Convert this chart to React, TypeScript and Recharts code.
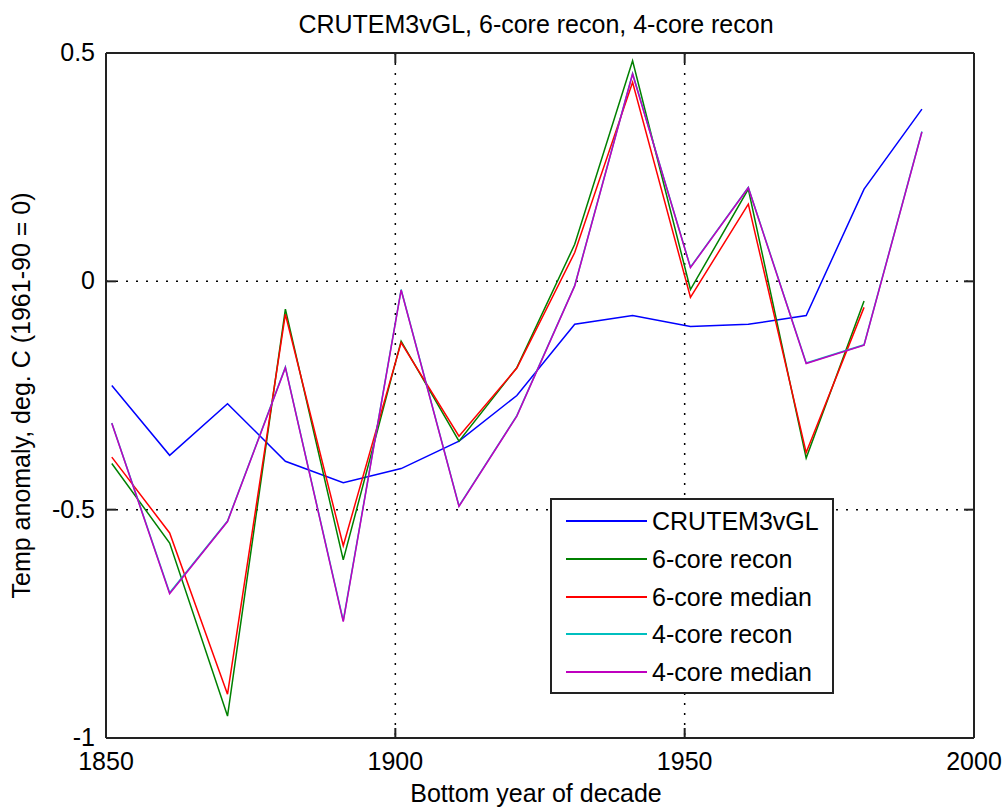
import React from 'react';
import { LineChart, Line, XAxis, YAxis, CartesianGrid, ReferenceLine, Legend } from 'recharts';

const years = [1851, 1861, 1871, 1881, 1891, 1901, 1911, 1921, 1931, 1941, 1951, 1961, 1971, 1981, 1991];
const crutem = [-0.228, -0.381, -0.268, -0.394, -0.441, -0.41, -0.35, -0.25, -0.094, -0.075, -0.099, -0.094, -0.075, 0.202, 0.377];
const recon6 = [-0.399, -0.573, -0.952, -0.061, -0.61, -0.131, -0.35, -0.189, 0.081, 0.483, -0.018, 0.202, -0.387, -0.043, null];
const median6 = [-0.385, -0.551, -0.904, -0.072, -0.579, -0.134, -0.339, -0.19, 0.063, 0.436, -0.035, 0.169, -0.375, -0.057, null];
const recon4 = [-0.31, -0.682, -0.525, -0.188, -0.743, -0.018, -0.492, -0.294, -0.009, 0.455, 0.031, 0.206, -0.179, -0.139, 0.328];
const median4 = [-0.311, -0.684, -0.526, -0.189, -0.745, -0.019, -0.493, -0.295, -0.01, 0.454, 0.03, 0.205, -0.18, -0.14, 0.327];

const xTicks = [1850, 1900, 1950, 2000];
const yTicks = [-1, -0.5, 0, 0.5];
const yTickLabels = ['-1', '-0.5', '0', '0.5'];

const seriesNames = ['CRUTEM3vGL', '6-core recon', '6-core median', '4-core recon', '4-core median'];
const seriesColors = ['#0000ff', '#008000', '#ff0000', '#00bfbf', '#bf00bf'];
const seriesKeys = ['crutem', 'recon6', 'median6', 'recon4', 'median4'];

const data = years.map((year, i) => ({
  year,
  crutem: crutem[i],
  recon6: recon6[i],
  median6: median6[i],
  recon4: recon4[i],
  median4: median4[i],
}));

const FONT = '"Liberation Sans", Arial, sans-serif';
const W = 1005;
const H = 810;
const M = { top: 53, right: 31, bottom: 0, left: 0 };
const YAXIS_W = 106;
const XAXIS_H = 72;
const PLOT_W = W - M.left - M.right - YAXIS_W;
const PLOT_H = H - M.top - M.bottom - XAXIS_H;
const TICK = 10;
const AX = '#222';

const XTick = (props: any) => {
  const { x, y, payload } = props;
  return (
    <g>
      <line x1={x} y1={y} x2={x} y2={y - TICK} stroke={AX} strokeWidth={2} />
      <line x1={x} y1={y - PLOT_H} x2={x} y2={y - PLOT_H + TICK} stroke={AX} strokeWidth={2} />
      <text x={x} y={y + 32} textAnchor="middle" fontSize={25} fontFamily={FONT} fill="#000">
        {String(payload.value)}
      </text>
    </g>
  );
};

const YTick = (props: any) => {
  const { x, y, payload } = props;
  const idx = yTicks.indexOf(payload.value);
  const label = idx >= 0 ? yTickLabels[idx] : String(payload.value);
  return (
    <g>
      <line x1={x} y1={y} x2={x + TICK} y2={y} stroke={AX} strokeWidth={2} />
      <line x1={x + PLOT_W} y1={y} x2={x + PLOT_W - TICK} y2={y} stroke={AX} strokeWidth={2} />
      <text x={x - 11} y={y + 8} textAnchor="end" fontSize={25} fontFamily={FONT} fill="#000">
        {label}
      </text>
    </g>
  );
};

const renderLegend = (props: any) => {
  const raw = props.payload || [];
  const payload = [...raw].sort(
    (a: any, b: any) => seriesNames.indexOf(a.value) - seriesNames.indexOf(b.value)
  );
  return (
    <div
      style={{
        position: 'relative',
        width: 284,
        height: 196,
        border: `2px solid ${AX}`,
        boxSizing: 'border-box',
        background: '#fff',
        fontFamily: FONT,
        fontSize: 25,
        color: '#000',
      }}
    >
      {payload.map((entry: any, i: number) => (
        <div
          key={i}
          style={{
            position: 'absolute',
            left: 0,
            top: 21 + i * 37.8 - 19,
            height: 38,
            width: 280,
            display: 'flex',
            alignItems: 'center',
          }}
        >
          <svg width={100} height={38} style={{ display: 'block', flex: 'none' }}>
            <line x1={14} y1={19} x2={95} y2={19} stroke={entry.color} strokeWidth={2} />
          </svg>
          <span style={{ lineHeight: '38px', whiteSpace: 'nowrap' }}>{entry.value}</span>
        </div>
      ))}
    </div>
  );
};

const YLabel = (props: any) => {
  const vb = props.viewBox || { x: 0, y: M.top, width: YAXIS_W, height: PLOT_H };
  const cx = vb.x + 30;
  const cy = vb.y + vb.height / 2;
  return (
    <text
      x={cx}
      y={cy}
      transform={`rotate(-90 ${cx} ${cy})`}
      textAnchor="middle"
      fontSize={25}
      fontFamily={FONT}
      fill="#000"
    >
      Temp anomaly, deg. C (1961-90 = 0)
    </text>
  );
};

const XLabel = (props: any) => {
  const vb = props.viewBox || { x: YAXIS_W, y: M.top + PLOT_H, width: PLOT_W, height: XAXIS_H };
  const cx = vb.x + vb.width / 2 - 4;
  const cy = vb.y + 64;
  return (
    <text x={cx} y={cy} textAnchor="middle" fontSize={25} fontFamily={FONT} fill="#000">
      Bottom year of decade
    </text>
  );
};

export default function App() {
  return (
    <div style={{ position: 'absolute', left: 0, top: 0, width: W, height: H, background: '#fff' }}>
      <LineChart width={W} height={H} data={data} margin={M}>
        <CartesianGrid stroke="#000" strokeWidth={1.5} strokeDasharray="2 8" />
        <XAxis
          dataKey="year"
          type="number"
          domain={[1850, 2000]}
          ticks={xTicks}
          height={XAXIS_H}
          tickSize={0}
          tickMargin={0}
          tickLine={false}
          axisLine={{ stroke: AX, strokeWidth: 2 }}
          tick={<XTick />}
          interval={0}
          allowDataOverflow
          label={{ content: <XLabel /> }}
        />
        <YAxis
          type="number"
          domain={[-1, 0.5]}
          ticks={yTicks}
          width={YAXIS_W}
          tickSize={0}
          tickMargin={0}
          tickLine={false}
          axisLine={{ stroke: AX, strokeWidth: 2 }}
          tick={<YTick />}
          interval={0}
          allowDataOverflow
          label={{ content: <YLabel /> }}
        />
        <ReferenceLine y={0.5} stroke={AX} strokeWidth={2} />
        <ReferenceLine x={2000} stroke={AX} strokeWidth={2} />
        {seriesKeys.map((k, i) => (
          <Line
            key={k}
            type="linear"
            dataKey={k}
            name={seriesNames[i]}
            stroke={seriesColors[i]}
            strokeWidth={1.5}
            dot={false}
            activeDot={false}
            isAnimationActive={false}
          />
        ))}
        <Legend
          layout="vertical"
          align="center"
          verticalAlign="middle"
          wrapperStyle={{ position: 'absolute', left: 550, top: 498, width: 284, height: 196 }}
          content={renderLegend}
        />
        <text x={536} y={33} textAnchor="middle" fontSize={25} fontFamily={FONT} fill="#000">
          CRUTEM3vGL, 6-core recon, 4-core recon
        </text>
      </LineChart>
    </div>
  );
}
